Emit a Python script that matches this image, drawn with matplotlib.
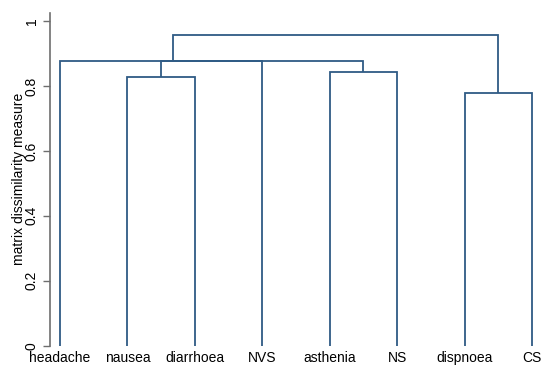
import matplotlib
matplotlib.use("Agg")
import matplotlib.pyplot as plt

plt.rcParams["font.family"] = ["Liberation Sans", "DejaVu Sans"]

leaves = ["headache", "nausea", "diarrhoea", "NVS", "asthenia", "NS", "dispnoea", "CS"]

# links: left x, right x, left bottom, right bottom, height
link_left = [2, 5, 7, 1, 2.5, 2.68]
link_right = [3, 6, 8, 5.5, 4, 7.5]
link_left_bottom = [0, 0, 0, 0, 0.829, 0.877]
link_right_bottom = [0, 0, 0, 0.842, 0, 0.779]
link_height = [0.829, 0.842, 0.779, 0.877, 0.878, 0.956]

line_color = "#2f5b85"
axis_color = "#6e6e6e"

fig = plt.figure(figsize=(5.5, 3.72), dpi=100)
ax = fig.add_axes([50 / 550, 1 - 345.7 / 372, 492 / 550, (345.7 - 13) / 372])

for xl, xr, bl, br, h in zip(link_left, link_right, link_left_bottom,
                             link_right_bottom, link_height):
    ax.plot([xl, xl, xr, xr], [bl, h, h, br], color=line_color, lw=1.3,
            solid_joinstyle="miter", solid_capstyle="butt")

ax.set_xlim(1 - 10 / 67.4, 8 + 10 / 67.4)
ax.set_ylim(0, 1.025)

ax.set_xticks(range(1, len(leaves) + 1))
ax.set_xticklabels(leaves, fontsize=10)
ax.tick_params(axis="x", length=0, pad=4)

ax.set_yticks([0, 0.2, 0.4, 0.6, 0.8, 1])
ax.set_yticklabels(["0", "0.2", "0.4", "0.6", "0.8", "1"], fontsize=10,
                   rotation=90, va="center")
ax.tick_params(axis="y", length=5, width=1, color=axis_color, pad=3)
ax.set_ylabel("matrix dissimilarity measure", fontsize=10, labelpad=0)
ax.yaxis.set_label_coords(-24 / 492, 0.5)

for side in ["top", "right", "bottom"]:
    ax.spines[side].set_visible(False)
ax.spines["left"].set_color(axis_color)
ax.spines["left"].set_linewidth(1.2)

fig.savefig("out.png", dpi=100)
